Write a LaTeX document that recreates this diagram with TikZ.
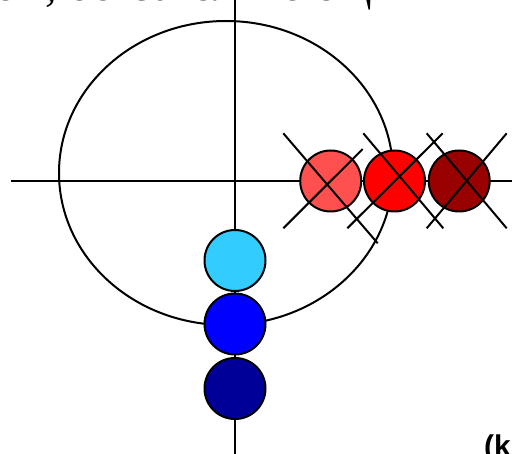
\documentclass[tikz,border=0pt]{standalone}
\usepackage{fontspec}
\setmainfont{Liberation Serif}
\newfontfamily\labelsans{Liberation Sans}
\definecolor{lightred}{HTML}{FF5050}
\definecolor{pureRed}{HTML}{FF0000}
\definecolor{darkred}{HTML}{990000}
\definecolor{lightblue}{HTML}{33CCFF}
\definecolor{pureBlue}{HTML}{0000FF}
\definecolor{darkblue}{HTML}{000099}
\begin{document}
\begin{tikzpicture}[x=1pt,y=-1pt,
  thick line/.style={line width=2pt},
  ball/.style={circle, draw=black, line width=2pt, minimum size=61pt, inner sep=0pt},
  crossline/.style={line width=2pt}]
\useasboundingbox (0,0) rectangle (512,454);
\clip (0,0) rectangle (512,454);
% cut-off heading text at the top
\node[anchor=base west, inner sep=0pt, font=\fontsize{46}{46}\selectfont] (heading) at (-6,1) {ом, обязательно ещ};
% ellipse (orbit)
\draw[thick line] (226,173) ellipse [x radius=167, y radius=152];
% axes
\coordinate (hl) at (11,181);
\coordinate (hr) at (512,181);
\coordinate (vt) at (235,0);
\coordinate (vb) at (235,454);
\draw[thick line] (hl) -- (hr);
\draw[thick line] (vt) -- (vb);
% blue balls
\node[ball, fill=lightblue] (lb) at (235,260.5) {};
\node[ball, fill=pureBlue] (bb) at (235,324) {};
\node[ball, fill=darkblue] (db) at (235,388.5) {};
% red balls
\node[ball, fill=lightred] (lr) at (330.7,181) {};
\node[ball, fill=pureRed] (rr) at (394.5,181) {};
\node[ball, fill=darkred] (dr) at (459.2,181) {};
% crosses
\coordinate (lrA1) at (283.3,133.3); \coordinate (lrA2) at (377.7,243.3);
\coordinate (lrB1) at (283.3,228.3); \coordinate (lrB2) at (362.7,149);
\coordinate (rrA1) at (363.3,133.3); \coordinate (rrA2) at (443.3,228.3);
\coordinate (rrB1) at (347.3,228.3); \coordinate (rrB2) at (442.7,133.3);
\coordinate (drA1) at (426.7,133.3); \coordinate (drA2) at (506.7,228.3);
\coordinate (drB1) at (426.7,228.3); \coordinate (drB2) at (506.7,133.3);
\draw[crossline] (lrA1) -- (lrA2);
\draw[crossline] (lrB1) -- (lrB2);
\draw[crossline] (rrA1) -- (rrA2);
\draw[crossline] (rrB1) -- (rrB2);
\draw[crossline] (drA1) -- (drA2);
\draw[crossline] (drB1) -- (drB2);
% cut-off label bottom right
\node[anchor=base west, inner sep=0pt, font=\labelsans\bfseries\fontsize{30}{30}\selectfont] (klabel) at (484,457) {(k};
\end{tikzpicture}
\end{document}
